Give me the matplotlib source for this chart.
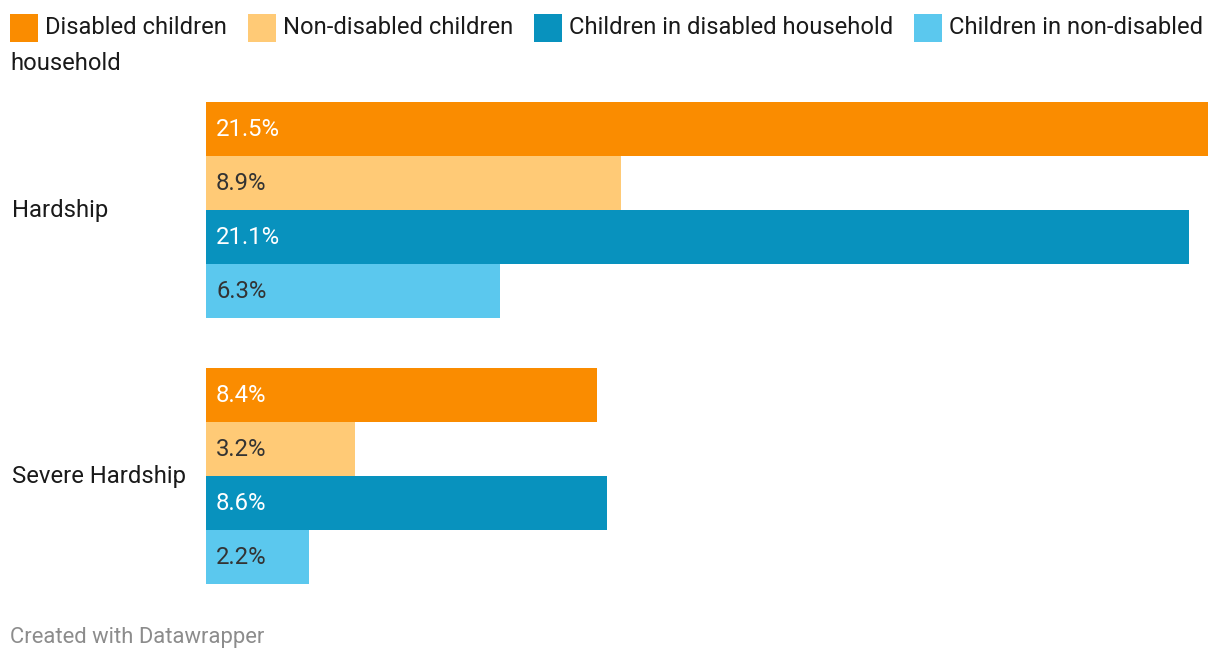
import matplotlib
matplotlib.use("Agg")
import matplotlib.pyplot as plt
from matplotlib.patches import Rectangle

categories = ["Hardship", "Severe Hardship"]
series_names = ["Disabled children", "Non-disabled children",
                "Children in disabled household", "Children in non-disabled household"]
values = {
    "Disabled children": [21.5, 8.4],
    "Non-disabled children": [8.9, 3.2],
    "Children in disabled household": [21.1, 8.6],
    "Children in non-disabled household": [6.3, 2.2],
}
colors = ["#FA8C00", "#FFCA76", "#0892BE", "#5BC8EE"]
label_colors = ["white", "#333333", "white", "#333333"]

plt.rcParams['font.family'] = ['Roboto', 'DejaVu Sans']
W, H = 1220, 662
fig = plt.figure(figsize=(W / 100, H / 100), dpi=100)

def fx(px):
    return px / W

def fy(py):
    return 1 - py / H

# axes region in pixels
left, right, top, bottom = 206, 1208, 102, 584
ax = fig.add_axes([fx(left), fy(bottom), fx(right - left), (bottom - top) / H])
n = len(series_names)
gap = 50 / 54
xmax = max(max(v) for v in values.values())
ax.set_xlim(0, xmax)
ax.set_ylim(n * len(categories) + gap * (len(categories) - 1) - 0.5, -0.5)
ax.axis("off")

fs = 17.2
for g, cat in enumerate(categories):
    base = g * (n + gap)
    for i, name in enumerate(series_names):
        v = values[name][g]
        y = base + i
        ax.barh(y, v, height=1.0, color=colors[i], linewidth=0)
        ax.annotate(f"{v}%", xy=(0, y), xytext=(10, -7), textcoords="offset pixels",
                    va="baseline", ha="left", fontsize=fs, color=label_colors[i])
    center = base + (n - 1) / 2
    ax.annotate(cat, xy=(0, center), xycoords=("figure fraction", "data"),
                xytext=(12, -7), textcoords="offset pixels",
                va="baseline", ha="left", fontsize=fs, color="#1a1a1a")

# legend with HTML-like flow wrapping
fig.canvas.draw()
renderer = fig.canvas.get_renderer()
lfs = 17.12
x = 10
line_base = 34
line_h = 36
max_x = 1212
sq = 28
for i, name in enumerate(series_names):
    fig.patches.append(Rectangle((fx(x), fy(42)), sq / W, sq / H,
                                 transform=fig.transFigure, color=colors[i], linewidth=0))
    x += sq + 7
    words = name.split(" ")
    cur = ""
    for w in words:
        trial = (cur + " " + w) if cur else w
        t = fig.text(0, 0, trial, fontsize=lfs)
        tw = t.get_window_extent(renderer).width
        t.remove()
        if x + tw > max_x and cur:
            fig.text(fx(x), fy(line_base), cur, fontsize=lfs, va="baseline", ha="left", color="#1a1a1a")
            line_base += line_h
            x = 10
            cur = w
        else:
            cur = trial
    t = fig.text(fx(x), fy(line_base), cur, fontsize=lfs, va="baseline", ha="left", color="#1a1a1a")
    x += t.get_window_extent(renderer).width + 21

fig.text(fx(10), fy(643), "Created with Datawrapper", fontsize=15.8, color="#8c8c8c",
         va="baseline", ha="left")

fig.savefig("out.png", dpi=100, facecolor="white")
